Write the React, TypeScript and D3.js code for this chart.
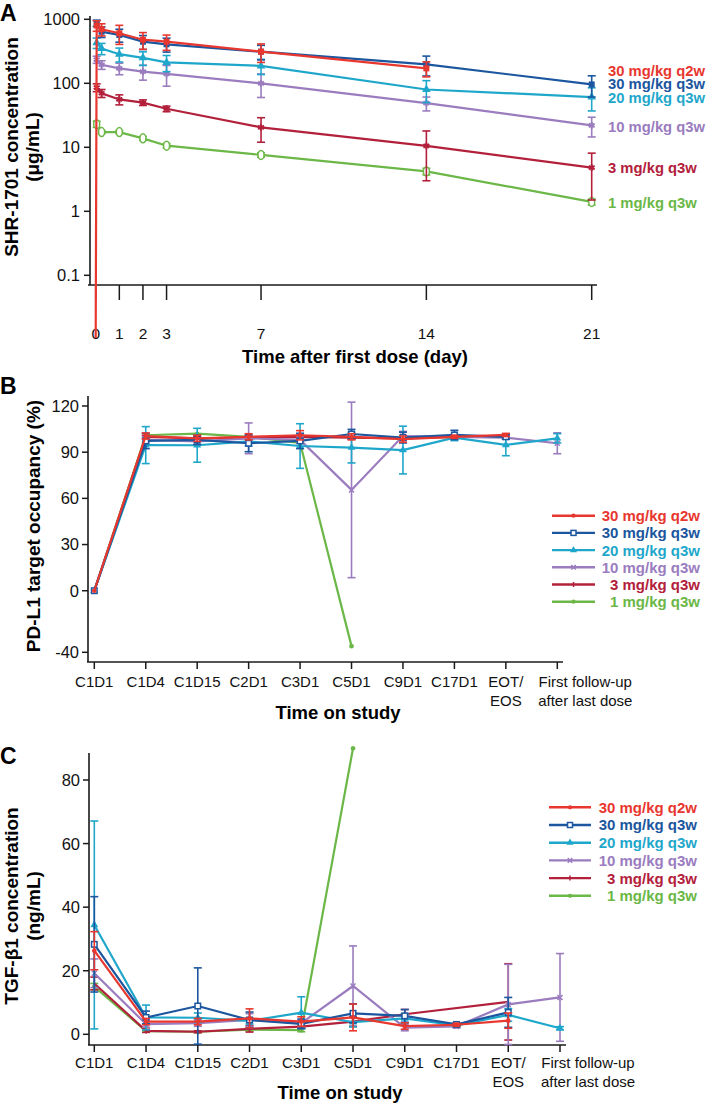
import React from "react";
import * as d3 from "d3";

// ---------- shared series ----------
const seriesNames = ["30 mg/kg q2w", "30 mg/kg q3w", "20 mg/kg q3w", "10 mg/kg q3w", "3 mg/kg q3w", "1 mg/kg q3w"];
const seriesColors = ["#e8372f", "#1b569e", "#1fa7cb", "#9a7cbf", "#b3203b", "#6bb747"];
const markersA = ["square", "square", "triangle", "asterisk", "asterisk", "circleOpen"];
const markersBC = ["circle", "squareOpen", "triangle", "x", "plus", "circle"];

// ---------- Panel A: PK ----------
const pkTimes = [0, 0.042, 0.25, 1, 2, 3, 7, 14, 21];
const pkTicks = [0, 1, 2, 3, 7, 14, 21];
const pkYTicks = [0.1, 1, 10, 100, 1000];
const pkYTickLabels = ["0.1", "1", "10", "100", "1000"];
const pk30q2w = [0, 800, 700, 605, 480, 447, 312, 171, null];
const pk30q2wSd = [0, 150, 150, 200, 140, 120, 100, 45, null];
const pk30q3w = [null, 870, 640, 569, 447, 407, 312, 198, 96];
const pk30q3wSd = [null, 100, 120, 130, 110, 100, 80, 68, 35];
const pk20q3w = [null, 430, 350, 285, 250, 212, 187, 80, 61];
const pk20q3wSd = [null, 80, 70, 70, 60, 60, 50, 30, 24];
const pk10q3w = [null, 235, 195, 171, 152, 140, 100, 49, 22];
const pk10q3wSd = [null, 30, 30, 35, 40, 50, 40, 12, 7.5];
const pk3q3w = [null, 86, 70, 56, 50, 40, 20.5, 10.5, 4.8];
const pk3q3wSd = [null, 12, 10, 10, 5, 4, 8.5, 7.5, 3.3];
const pk1q3w = [null, 23, 17.3, 17.3, 13.8, 10.6, 7.6, 4.2, 1.4];
const pk1q3wSd = [null, 2.5, 1, 1, 1, 0.8, 0.6, 0.5, 0.15];
const PK_ZERO = 0.0105; // level at which a zero (pre-dose) concentration is drawn

// ---------- Panels B & C: categories ----------
const categories = ["C1D1", "C1D4", "C1D15", "C2D1", "C3D1", "C5D1", "C9D1", "C17D1", "EOT/EOS", "First follow-up after last dose"];
const categoryLabelLines = [["C1D1"], ["C1D4"], ["C1D15"], ["C2D1"], ["C3D1"], ["C5D1"], ["C9D1"], ["C17D1"], ["EOT/", "EOS"], ["First follow-up", "after last dose"]];

// ---------- Panel B: PD-L1 occupancy ----------
const roYTicks = [-40, 0, 30, 60, 90, 120];
const ro30q2w = [0, 100.5, 99, 100, 101, 100, 98.5, 100, 101.2, null];
const ro30q2wSd = [0, 2, 2, 2, 3, 2, 2, 1, 1, null];
const ro30q3w = [0, 97.3, 98, 95.8, 97.3, 101.8, 99.5, 101.2, 100, null];
const ro30q3wSd = [0, 5, 3, 5.5, 5, 3, 3.5, 3, 1.5, null];
const ro20q3w = [0, 94.6, 94.5, 97, 94, 93, 91.4, 99.5, 94.7, 99];
const ro20q3wSd = [0, 12, 11, 3, 14.5, 10, 15.5, 2, 7, 3];
const ro10q3w = [0, 98, 97, 99, 98, 65.5, 100.5, 100, 99.5, 95.8];
const ro10q3wSd = [0, 2, 2, 10, 2, 57, 3, 1, 1, 6.8];
const ro3q3w = [0, 100, 99, 99.5, 100, 99.5, 99, 100, 100, null];
const ro3q3wSd = [0, 1, 1, 1, 1, 1, 1, 1, 1, null];
const ro1q3w = [0, 101, 102, 100, 96, -36, null, null, null, null];
const ro1q3wSd = [0, 0, 0, 0, 0, 0, null, null, null, null];

// ---------- Panel C: TGF-beta1 ----------
const tgfYTicks = [0, 20, 40, 60, 80];
const tgf30q2w = [26.3, 4, 4, 5, 4, 5.3, 2.6, 3, 4.3, null];
const tgf30q2wSd = [6, 1, 1, 3, 1.5, 4.2, 1, 0.5, 2.4, null];
const tgf30q3w = [28.3, 5.3, 8.9, 4.5, 3.3, 6.6, 5.8, 3.1, 6.9, null];
const tgf30q3wSd = [15, 2, 12, 2.5, 1.5, 3, 2, 0.5, 4.7, null];
const tgf20q3w = [34.4, 5.3, 5.2, 4.2, 6.8, 3.8, 5, 2.8, 6.1, 1.9];
const tgf20q3wSd = [32.7, 3.9, 1.5, 1, 5, 1.5, 1.5, 0.5, 2, 0.5];
const tgf10q3w = [19.2, 3.2, 3.5, 4.5, 3.5, 15.2, 2.1, 2.5, 9.4, 11.6];
const tgf10q3wSd = [4.5, 1, 1, 2, 1, 12.6, 1, 0.5, 12.6, 13.8];
const tgf3q3w = [16, 1.1, 0.8, 1.7, 2.4, 4, 6.3, null, 10.2, null];
const tgf3q3wSd = [2, 0.5, 0.3, 1, 0.5, 1.5, 1.5, null, 12, null];
const tgf1q3w = [15, 1, 0.8, 1.5, 1.3, 90, null, null, null, null];
const tgf1q3wSd = [1, 0.3, 0.3, 0.5, 0.5, 0, null, null, null, null];

const pkMeans = [pk30q2w, pk30q3w, pk20q3w, pk10q3w, pk3q3w, pk1q3w];
const pkSds = [pk30q2wSd, pk30q3wSd, pk20q3wSd, pk10q3wSd, pk3q3wSd, pk1q3wSd];
const roMeans = [ro30q2w, ro30q3w, ro20q3w, ro10q3w, ro3q3w, ro1q3w];
const roSds = [ro30q2wSd, ro30q3wSd, ro20q3wSd, ro10q3wSd, ro3q3wSd, ro1q3wSd];
const tgfMeans = [tgf30q2w, tgf30q3w, tgf20q3w, tgf10q3w, tgf3q3w, tgf1q3w];
const tgfSds = [tgf30q2wSd, tgf30q3wSd, tgf20q3wSd, tgf10q3wSd, tgf3q3wSd, tgf1q3wSd];

// draw order (bottom -> top)
const drawOrder = [5, 4, 3, 2, 1, 0];

const FONT = "'Liberation Sans', Arial, Helvetica, sans-serif";
const AX = "#1a1a1a";

function Marker({ kind, x, y, color, s = 6 }: any) {
  const sw = 1.5;
  switch (kind) {
    case "circle":
      return <circle cx={x} cy={y} r={s * 0.42} fill={color} />;
    case "circleOpen":
      return <ellipse cx={x} cy={y} rx={s * 0.5} ry={s * 0.75} fill="white" stroke={color} strokeWidth={sw} />;
    case "square":
      return <rect x={x - s / 2} y={y - s / 2} width={s} height={s} fill={color} />;
    case "squareOpen":
      return <rect x={x - s / 2} y={y - s / 2} width={s} height={s} fill="white" stroke={color} strokeWidth={sw} />;
    case "triangle":
      return <path d={d3.symbol().type(d3.symbolTriangle).size(s * s * 0.9)() as string} transform={`translate(${x},${y})`} fill={color} />;
    case "asterisk":
      return <path d={d3.symbol().type(d3.symbolAsterisk).size(s * s * 0.9)() as string} transform={`translate(${x},${y})`} fill="none" stroke={color} strokeWidth={2} />;
    case "x":
      return <path d={d3.symbol().type(d3.symbolTimes).size(s * s * 0.6)() as string} transform={`translate(${x},${y})`} fill="none" stroke={color} strokeWidth={sw} />;
    case "plus":
      return <line x1={x} x2={x} y1={y - s / 2} y2={y + s / 2} stroke={color} strokeWidth={sw} />;
    default:
      return null;
  }
}

function ErrBar({ x, y1, y2, color, cap = 4 }: any) {
  return (
    <g stroke={color} strokeWidth={1.6}>
      <line x1={x} x2={x} y1={y1} y2={y2} />
      <line x1={x - cap} x2={x + cap} y1={y1} y2={y1} />
      <line x1={x - cap} x2={x + cap} y1={y2} y2={y2} />
    </g>
  );
}

function PanelA() {
  const x = d3.scaleLinear().domain([0, 21]).range([95.7, 591.7]);
  const y = d3.scaleLog().domain([0.1, 1000]).range([275.3, 19.3]);
  const yv = (v: number) => (v === 0 ? y(PK_ZERO) : y(v));
  const axisX = 90, axisTop = 16, axisBottom = 285, axisRight = 597;
  const labelNudge = [2, -0.5, 1, 1, 0, 1];
  return (
    <g>
      <text x={0} y={21} fontFamily={FONT} fontWeight="bold" fontSize={23}>A</text>
      {/* axes */}
      <line x1={axisX} x2={axisX} y1={axisTop} y2={axisBottom} stroke={AX} strokeWidth={1.6} />
      <line x1={axisX - 2} x2={axisRight} y1={axisBottom} y2={axisBottom} stroke={AX} strokeWidth={1.6} />
      {pkYTicks.map((t, i) => (
        <g key={t}>
          <line x1={axisX - 6} x2={axisX} y1={y(t)} y2={y(t)} stroke={AX} strokeWidth={1.5} />
          <text x={80} y={y(t)} dy="0.36em" textAnchor="end" fontFamily={FONT} fontSize={16.5} fill="#111">{pkYTickLabels[i]}</text>
        </g>
      ))}
      {pkTicks.map((t) => (
        <g key={t}>
          <line x1={x(t)} x2={x(t)} y1={axisBottom} y2={axisBottom + 15} stroke={AX} strokeWidth={1.5} />
          <text x={x(t)} y={339} textAnchor="middle" fontFamily={FONT} fontSize={15.5} fill="#111">{t}</text>
        </g>
      ))}
      <text x={355} y={363} textAnchor="middle" fontFamily={FONT} fontWeight="bold" fontSize={18.5}>Time after first dose (day)</text>
      <text transform={`translate(18,147) rotate(-90)`} textAnchor="middle" fontFamily={FONT} fontWeight="bold" fontSize={19}>SHR-1701 concentration</text>
      <text transform={`translate(39,147) rotate(-90)`} textAnchor="middle" fontFamily={FONT} fontWeight="bold" fontSize={19}>(μg/mL)</text>
      {/* series */}
      {drawOrder.map((si) => {
        const means = pkMeans[si];
        const sds = pkSds[si];
        const color = seriesColors[si];
        const pts = pkTimes.map((t, i) => ({ t, v: means[i], sd: sds[i] })).filter((p) => p.v != null) as any[];
        const line = d3.line<any>().x((p) => x(p.t)).y((p) => yv(p.v));
        return (
          <g key={si}>
            <path d={line(pts) as string} fill="none" stroke={color} strokeWidth={2.2} />
            {pts.filter((p) => p.v > 0).map((p, k) => (
              <ErrBar key={"e" + k} x={x(p.t)} y1={y(p.v + p.sd)} y2={y(Math.max(p.v - p.sd, 0.075))} color={color} />
            ))}
            {pts.filter((p) => p.v > 0).map((p, k) => (
              <Marker key={"m" + k} kind={markersA[si]} x={x(p.t)} y={y(p.v)} color={color} s={6} />
            ))}
          </g>
        );
      })}
      {/* end labels */}
      {seriesNames.map((n, si) => {
        const means = pkMeans[si];
        const last = means.filter((v) => v != null).slice(-1)[0] as number;
        return (
          <text key={n} x={608} y={y(last) + labelNudge[si]} dy="0.35em" fontFamily={FONT} fontWeight="bold" fontSize={14.8} fill={seriesColors[si]}>{n}</text>
        );
      })}
    </g>
  );
}

function CategoryPanel({ label, labelY, means, sds, yDomain, yRange, yTicks, axisX, axisTop, axisBottom, axisRight, xRange, tickLabelY, title, titleX, titleY, yTitle, yTitleY, legendX1, legendX2, legendTextX, legendY0, legendStep }: any) {
  const x = d3.scalePoint().domain(categories).range(xRange);
  const y = d3.scaleLinear().domain(yDomain).range(yRange);
  return (
    <g>
      <text x={0} y={labelY} fontFamily={FONT} fontWeight="bold" fontSize={23}>{label}</text>
      <line x1={axisX} x2={axisX} y1={axisTop} y2={axisBottom} stroke={AX} strokeWidth={1.6} />
      <line x1={axisX - 1} x2={axisRight} y1={axisBottom} y2={axisBottom} stroke={AX} strokeWidth={1.6} />
      {yTicks.map((t: number) => (
        <g key={t}>
          <line x1={axisX - 6} x2={axisX} y1={y(t)} y2={y(t)} stroke={AX} strokeWidth={1.5} />
          <text x={axisX - 9} y={y(t)} dy="0.36em" textAnchor="end" fontFamily={FONT} fontSize={16.5} fill="#111">{t}</text>
        </g>
      ))}
      {categories.map((c, i) => {
        const cx = x(c) as number;
        const shift = i === categories.length - 1 ? 28 : 0;
        return (
          <g key={c}>
            <line x1={cx} x2={cx} y1={axisBottom} y2={axisBottom + 7} stroke={AX} strokeWidth={1.5} />
            <text x={cx + shift} y={tickLabelY} textAnchor="middle" fontFamily={FONT} fontSize={15} fill="#111">
              {categoryLabelLines[i].map((l, k) => (
                <tspan key={k} x={cx + shift} dy={k === 0 ? 0 : 18.5}>{l}</tspan>
              ))}
            </text>
          </g>
        );
      })}
      <text x={titleX} y={titleY} textAnchor="middle" fontFamily={FONT} fontWeight="bold" fontSize={18.5}>{title}</text>
      {yTitle.map((l: string, k: number) => (
        <text key={k} transform={`translate(${yTitle.length === 1 ? 40 : 18 + k * 22},${yTitleY}) rotate(-90)`} textAnchor="middle" fontFamily={FONT} fontWeight="bold" fontSize={19}>{l}</text>
      ))}
      {drawOrder.map((si) => {
        const color = seriesColors[si];
        const pts = categories.map((c, i) => ({ c, v: means[si][i], sd: sds[si][i] })).filter((p) => p.v != null) as any[];
        const line = d3.line<any>().x((p) => x(p.c) as number).y((p) => y(p.v));
        return (
          <g key={si}>
            <path d={line(pts) as string} fill="none" stroke={color} strokeWidth={2.2} />
            {pts.filter((p) => p.sd > 0).map((p, k) => (
              <ErrBar key={"e" + k} x={x(p.c)} y1={y(p.v + p.sd)} y2={y(p.v - p.sd)} color={color} />
            ))}
            {pts.map((p, k) => (
              <Marker key={"m" + k} kind={markersBC[si]} x={x(p.c)} y={y(p.v)} color={color} s={5.5} />
            ))}
          </g>
        );
      })}
      {seriesNames.map((n, si) => {
        const ly = legendY0 + si * legendStep;
        return (
          <g key={n}>
            <line x1={legendX1} x2={legendX2} y1={ly} y2={ly} stroke={seriesColors[si]} strokeWidth={2.4} />
            <Marker kind={markersBC[si]} x={(legendX1 + legendX2) / 2} y={ly} color={seriesColors[si]} s={5} />
            <text x={legendTextX} y={ly} dy="0.36em" textAnchor="end" fontFamily={FONT} fontWeight="bold" fontSize={15} fill={seriesColors[si]}>{n}</text>
          </g>
        );
      })}
    </g>
  );
}

export default function App() {
  return (
    <div style={{ position: "absolute", left: 0, top: 0 }}>
      <svg width={708} height={1104} viewBox="0 0 708 1104" style={{ display: "block", background: "white" }}>
        <rect width={708} height={1104} fill="white" />
        <PanelA />
        <CategoryPanel
          label="B" labelY={394}
          means={roMeans} sds={roSds}
          yDomain={[-40, 120]} yRange={[652.3, 406]} yTicks={roYTicks}
          axisX={88} axisTop={396} axisBottom={662} axisRight={563}
          xRange={[94.3, 557.3]} tickLabelY={687}
          title="Time on study" titleX={338} titleY={719}
          yTitle={["PD-L1 target occupancy (%)"]} yTitleY={526}
          legendX1={552} legendX2={595} legendTextX={700} legendY0={515.7} legendStep={17.2}
        />
        <CategoryPanel
          label="C" labelY={764}
          means={tgfMeans} sds={tgfSds}
          yDomain={[0, 80]} yRange={[1034.3, 780]} yTicks={tgfYTicks}
          axisX={89} axisTop={753} axisBottom={1045} axisRight={566}
          xRange={[94.3, 560]} tickLabelY={1068}
          title="Time on study" titleX={340} titleY={1099}
          yTitle={["TGF-β1 concentration", "(ng/mL)"]} yTitleY={906}
          legendX1={549} legendX2={591} legendTextX={697} legendY0={807.3} legendStep={17.7}
        />
      </svg>
    </div>
  );
}
